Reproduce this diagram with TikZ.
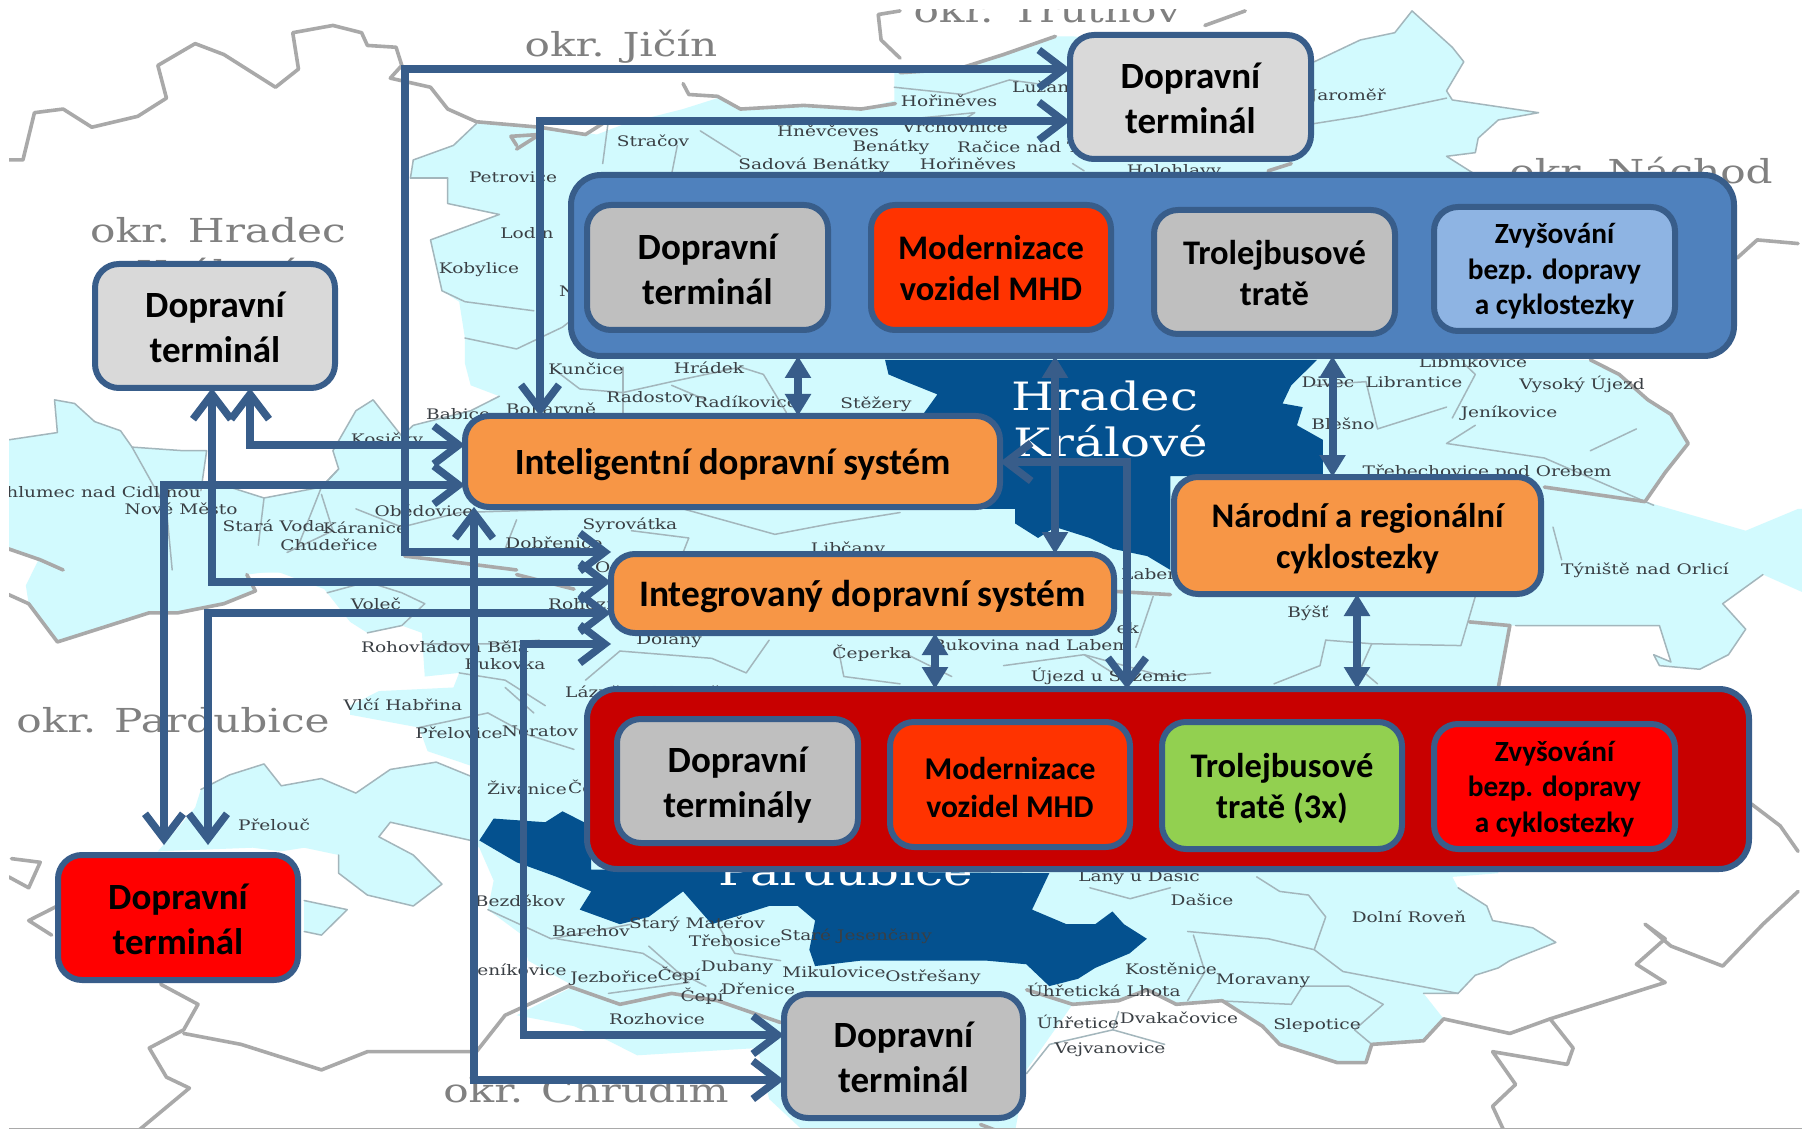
\documentclass[tikz,border=0pt]{standalone}
\usepackage{fontspec}
\setmainfont{Carlito}
\newfontfamily\mapf{DejaVu Serif}[FakeStretch=1.28]
\usetikzlibrary{arrows.meta,calc}
\definecolor{stk}{HTML}{385D8A}
\definecolor{gA}{HTML}{D9D9D9}
\definecolor{gB}{HTML}{BFBFBF}
\definecolor{mhd}{HTML}{FF3300}
\definecolor{lbl}{HTML}{8EB4E3}
\definecolor{pnlb}{HTML}{4F81BD}
\definecolor{org}{HTML}{F79646}
\definecolor{pnlr}{HTML}{C80000}
\definecolor{grn}{HTML}{92D050}
\definecolor{mapc}{HTML}{D2FAFE}
\definecolor{cityb}{HTML}{04518F}
\definecolor{thk}{HTML}{A9A9A9}
\definecolor{thn}{HTML}{A3B6BC}
\definecolor{okr}{HTML}{808080}
\definecolor{town}{HTML}{3A3F44}
\newcounter{lb}
\newcommand\lb[4][center]{\stepcounter{lb}\node[townlbl,anchor=#1] (lab\thelb) at (#2,#3) {#4};}
\newcommand\ok[4][center]{\stepcounter{lb}\node[okrlbl,anchor=#1] (lab\thelb) at (#2,#3) {#4};}
\newcommand\ct[3]{\stepcounter{lb}\node[citylbl] (lab\thelb) at (#1,#2) {#3};}
\newcommand\fl[2]{\fill[#1] plot coordinates {#2} -- cycle;}
\newcommand\tk[1]{\draw[thkline] plot coordinates {#1};}
\newcommand\tn[1]{\draw[thnline] plot coordinates {#1};}
% pushes a text block down by half of #1 (pt): adds height to its first line
\newcommand\dn[2]{\raisebox{0pt}[\dimexpr\height+#1pt\relax]{#2}}
% name, x1,y1,x2,y2 (outer edge), style, text
\newcommand\bx[7]{\node[#6,minimum width={(#4-#2-6)*1pt},minimum height={(#5-#3-6)*1pt}] (#1) at ({(#2+#4)/2},{(#3+#5)/2}) {#7};}
\tikzset{
  townlbl/.style={inner sep=0,font=\mapf\fontsize{14.5}{15}\selectfont,text=town},
  okrlbl/.style={inner sep=0,font=\mapf\fontsize{33}{33}\selectfont,text=okr},
  citylbl/.style={inner sep=0,font=\mapf\fontsize{39}{39}\selectfont,text=white},
  thkline/.style={draw=thk,line width=3.6pt,line join=round,line cap=round},
  thnline/.style={draw=thn,line width=1.5pt,line join=round,line cap=round},
  q1/.style={x=0.5740pt,y=-0.3635pt},
  q2/.style={shift={(900,0)},x=0.5753pt,y=-0.3635pt},
  q3/.style={shift={(0,560)},x=0.5740pt,y=-0.3642pt},
  q4/.style={shift={(900,560)},x=0.5753pt,y=-0.3642pt},
  box/.style={draw=stk,line width=6pt,rounded corners=24pt,align=center,inner sep=0,outer sep=0,text=black,font=\bfseries\fontsize{37}{45}\selectfont},
  mid/.style={box,font=\bfseries\fontsize{34.5}{41}\selectfont},
  small/.style={box,font=\bfseries\fontsize{29.3}{35.5}\selectfont},
  pnl/.style={draw=stk,line width=6pt,rounded corners=30pt,inner sep=0,outer sep=0},
  conn/.style={draw=stk,line width=7.5pt,line join=miter,{Straight Barb[length=25pt,width=38pt]}-{Straight Barb[length=25pt,width=38pt]}},
  dbl/.style={draw=stk,line width=8pt,{Triangle[length=22pt,width=25pt]}-{Triangle[length=22pt,width=25pt]}},
}
\begin{document}
\begin{tikzpicture}[x=1pt,y=-1pt]
\useasboundingbox (0,0) rectangle (1802,1131);
\fill[white] (0,0) rectangle (1802,1131);
\begin{scope}
\clip (9,10) rectangle (1802,1128);
% ---------- map fills
\begin{scope}[q1]
\fl{mapc}{(720,440)(790,400)(830,340)(900,340)(1040,370)(1090,340)(1190,300)(1250,270)(1290,300)(1400,290)(1500,300)(1575,270)(1575,1575)(110,1575)(70,1540)(15,1505)(15,1210)(100,1190)(95,1100)(130,1110)(165,1160)(210,1185)(230,1230)(320,1240)(360,1240)(350,1350)(380,1330)(460,1370)(560,1340)(590,1290)(580,1240)(620,1130)(650,1100)(700,1200)(720,1170)(820,1130)(870,1090)(820,1060)(810,1000)(810,930)(800,830)(770,800)(750,660)(870,590)(780,560)(780,490)(715,490)}
\end{scope}
\begin{scope}[q2]
\fl{mapc}{(-10,200)(100,190)(180,150)(270,100)(300,100)(720,170)(800,110)(860,90)(890,30)(960,130)(980,170)(950,250)(960,275)(1110,310)(1040,330)(1005,380)(1000,420)(950,430)(1000,480)(1000,990)(1200,990)(1250,1030)(1300,1100)(1340,1140)(1370,1220)(1330,1300)(1295,1380)(1470,1460)(1561,1400)(1571,1400)(1571,1578)(-10,1578)}
\end{scope}
\begin{scope}[q3]
\fl{mapc}{(70,-10)(45,70)(50,120)(100,225)(190,180)(260,145)(310,145)(390,120)(445,85)(430,40)(480,30)(565,80)(610,170)(640,200)(700,180)(735,200)(740,320)(800,310)(790,350)(660,360)(610,400)(610,425)(730,460)(745,525)(830,570)(830,600)(760,555)(680,575)(620,640)(560,600)(490,620)(460,560)(400,590)(350,630)(340,680)(275,800)(440,790)(490,800)(530,790)(590,810)(590,860)(640,920)(720,950)(770,890)(720,810)(660,760)(680,720)(820,770)(835,790)(860,880)(850,960)(910,1030)(920,1100)(1000,1170)(900,1250)(1000,1280)(1060,1320)(1110,1360)(1320,1340)(1340,1480)(1400,1568)(1575,1568)(1575,-10)}
\fl{mapc}{(530,935)(605,960)(560,1030)(530,1020)}
\end{scope}
\begin{scope}[q4]
\fl{mapc}{(-10,-10)(1571,-10)(1571,90)(1500,40)(1430,120)(1470,190)(1440,260)(1390,300)(1320,290)(1310,260)(1340,280)(1320,180)(1060,180)(1040,350)(1040,860)(960,870)(970,900)(1020,950)(1030,990)(1100,1010)(1140,1050)(1060,1100)(1040,1120)(1000,1140)(970,1190)(910,1190)(945,1260)(910,1320)(820,1330)(810,1380)(760,1380)(660,1330)(630,1280)(560,1210)(480,1220)(430,1180)(380,1210)(300,1220)(220,1400)(200,1568)(-10,1568)}
\end{scope}
% ---------- cities
\begin{scope}[q2]
\fl{cityb}{(-26,990)(725,990)(680,1060)(665,1110)(700,1120)(690,1170)(735,1210)(735,1310)(470,1310)(470,1568)(430,1530)(370,1510)(330,1480)(270,1450)(240,1480)(200,1440)(200,1400)(60,1400)(60,1140)(40,1140)(65,1085)(10,1050)(-20,1030)}
\end{scope}
\begin{scope}[q3]
\fl{cityb}{(835,770)(860,710)(950,720)(980,690)(1030,730)(1030,850)(1828,860)(1798,960)(1858,1000)(1908,1000)(1938,965)(1958,1000)(1998,1040)(1968,1080)(1908,1120)(1878,1150)(1828,1170)(1788,1110)(1718,1100)(1588,1100)(1500,1100)(1420,1115)(1410,1070)(1420,990)(1390,950)(1340,950)(1280,980)(1240,1000)(1190,910)(1130,980)(1080,1000)(1010,960)(1030,910)(970,870)(900,830)}
\end{scope}
% ---------- boundaries
\begin{scope}[q1]
\tn{(780,490)(780,560)(870,590)(750,660)(770,800)(810,830)(930,855)}
\tn{(715,490)(780,490)}
\tn{(810,930)(900,960)(980,900)(1020,850)}
\tn{(960,1010)(1010,1070)(1085,1080)(1170,1050)(1290,1010)(1330,1030)(1370,1135)}
\tn{(1085,1010)(1085,1140)}
\tn{(1170,1060)(1230,1100)}
\tn{(590,1290)(560,1340)(520,1500)}
\tn{(230,1230)(290,1400)(300,1568)}
\tn{(460,1370)(450,1500)}
\tn{(560,1360)(580,1460)(500,1520)}
\tn{(620,1400)(700,1450)(800,1410)(1010,1400)}
\tn{(900,1430)(880,1510)}
\tn{(1190,1400)(1350,1470)(1450,1440)(1568,1410)}
\tn{(1100,1460)(1200,1480)(1190,1520)}
\tn{(1060,330)(1050,450)}
\tn{(1180,400)(1170,480)}
\tn{(1290,430)(1220,360)}
\tn{(720,440)(715,490)}
\tn{(830,340)(790,400)(720,440)}
\tn{(15,1210)(100,1190)(95,1100)(130,1110)(165,1160)(210,1185)(230,1230)(320,1240)(360,1240)(350,1350)}
\tn{(380,1330)(460,1370)(560,1340)(590,1290)(580,1240)(620,1130)(650,1100)(700,1200)(720,1170)(820,1130)(870,1090)}
\tk{(15,440)(40,440)(60,310)(110,300)(160,350)(240,320)(290,270)(275,180)(340,120)(390,150)(480,240)(520,190)(510,90)(580,70)(630,90)(640,125)(690,130)(700,180)(680,215)(750,240)(780,300)(830,335)(940,350)(1020,370)(1050,340)}
\tk{(1190,230)(1200,260)(1250,265)(1290,300)(1400,290)(1500,300)(1560,285)}
\tk{(1568,30)(1530,40)(1535,110)(1568,160)}
\tk{(900,400)(890,375)(940,370)(900,410)}
\tk{(15,1510)(70,1540)(110,1568)}
\tk{(705,1530)(760,1540)(900,1568)}
\end{scope}
\begin{scope}[q2]
\tn{(960,1150)(1000,1030)(980,1000)}
\tn{(720,1060)(810,1050)(830,1180)(950,1120)}
\tn{(1000,1170)(950,1220)(1120,1260)(1310,1390)}
\tn{(1280,1180)(1200,1240)}
\tn{(-10,240)(110,260)(190,220)(260,235)}
\tn{(300,450)(320,470)}
\tn{(0,330)(130,310)(100,340)}
\tn{(1135,1450)(1150,1540)}
\tn{(720,170)(800,110)(860,90)(890,30)(960,130)(980,170)(950,250)(960,275)(1110,310)(1040,330)(1005,380)(1000,420)(950,430)(1000,480)}
\tn{(720,340)(800,320)(950,270)}
\tk{(0,200)(100,190)(180,150)(270,100)}
\tk{(530,70)(600,30)}
\tk{(640,470)(680,450)}
\tk{(1455,710)(1490,660)(1561,670)}
\tk{(1200,990)(1250,1030)(1300,1100)(1340,1140)(1370,1220)(1330,1300)(1295,1380)(1120,1340)}
\end{scope}
\begin{scope}[q3]
\tn{(735,230)(860,230)(940,220)}
\tn{(800,310)(880,330)(950,400)}
\tn{(880,350)(930,420)}
\tn{(850,420)(920,480)(1000,520)}
\tn{(730,460)(850,420)}
\tn{(1080,250)(1240,270)(1300,310)(1340,220)}
\tn{(1080,250)(1020,330)}
\tn{(1460,240)(1470,320)(1568,340)}
\tn{(1250,1000)(1280,1080)(1360,1100)}
\tn{(970,1040)(1120,1080)(1200,1160)}
\tn{(1130,1060)(1180,1130)(1230,1170)}
\tn{(850,960)(960,1040)(1100,1000)}
\tn{(1200,1160)(1060,1190)}
\tn{(570,90)(640,60)(700,90)(740,120)(700,180)(640,200)}
\tn{(350,630)(400,590)(460,560)(490,620)(560,600)(620,640)(680,575)(760,555)(830,600)}
\tn{(590,810)(590,860)(640,920)(720,950)(770,890)(720,810)(660,760)(680,720)(820,770)}
\tn{(530,935)(605,960)(560,1030)(530,1020)}
\tk{(15,95)(50,120)(100,225)(190,180)(260,145)(310,145)(390,120)(445,85)(430,40)}
\tk{(900,40)(1000,80)}
\tk{(20,820)(70,830)(50,900)(15,870)}
\tk{(100,950)(50,990)(90,1030)}
\tk{(280,1165)(345,1220)(320,1290)(260,1340)(290,1420)(330,1450)(240,1568)}
\tk{(320,1300)(420,1330)(560,1400)(640,1350)(830,1350)(880,1250)(990,1170)(1080,1220)(1170,1190)(1250,1210)(1360,1270)}
\end{scope}
\begin{scope}[q4]
\tn{(0,250)(90,320)}
\tn{(180,290)(320,260)(460,320)(540,310)}
\tn{(320,260)(370,310)}
\tn{(440,100)(410,240)}
\tn{(740,220)(820,230)(975,235)(1000,100)}
\tn{(740,220)(730,290)(650,340)}
\tn{(820,230)(800,300)(830,340)}
\tn{(330,900)(400,930)(470,900)}
\tn{(620,870)(660,910)(710,920)(740,980)(720,1070)(770,1130)(970,1190)}
\tn{(500,1020)(640,1040)(720,1070)}
\tn{(510,1030)(530,1130)(500,1210)}
\tn{(680,1220)(700,1170)(780,1170)(840,1220)(790,1290)(820,1330)}
\tn{(380,1240)(370,1290)(260,1330)(220,1410)}
\tn{(370,1290)(460,1330)}
\tn{(550,1210)(680,1220)}
\tn{(1500,40)(1430,120)(1470,190)(1440,260)(1390,300)(1320,290)(1310,260)(1340,280)(1320,180)(1070,180)}
\tn{(970,900)(1020,950)(1030,990)(1100,1010)(1140,1050)(1060,1100)(1040,1120)(1000,1140)(970,1190)(910,1190)}
\tk{(360,85)(470,95)}
\tk{(990,170)(1060,180)(1040,350)}
\tk{(1480,670)(1530,730)(1561,800)}
\tk{(220,1180)(300,1220)(380,1210)(430,1180)(480,1220)(560,1210)(630,1280)(660,1330)(760,1380)(810,1380)(820,1330)(910,1320)(945,1260)(1060,1300)(1130,1260)(1330,1160)(1280,1110)(1330,1040)(1295,1000)(1340,1060)(1430,1115)(1500,1000)(1561,910)}
\tk{(1130,1260)(1170,1340)(1160,1385)(1030,1350)(1070,1440)(1030,1500)(1050,1568)}
\tk{(140,1550)(170,1568)}
\end{scope}
\draw[draw=thk,line width=2pt] (9,1129) -- (1802,1129);
% ---------- map labels
\ok{621}{47}{okr. Jičín}
\ok{1047}{10}{okr. Trutnov}
\ok{218}{230}{okr. Hradec}
\ok{218}{272}{Králové}
\ok[east]{1773}{171}{okr. Náchod}
\ok{173}{720}{okr. Pardubice}
\ok{586}{1090}{okr. Chrudim}
\ct{1105}{396}{Hradec}
\ct{1111}{441}{Králové}
\ct{846}{871}{Pardubice}
\lb{653}{141}{Stračov}
\lb{828}{131}{Hněvčeves}
\lb{891}{147}{Benátky}
\lb{814}{165}{Sadová Benátky}
\lb{513}{177}{Petrovice}
\lb{527}{233}{Lodín}
\lb{479}{270}{Kobylice}
\lb[west]{559}{291}{N}
\lb{586}{369}{Kunčice}
\lb{709}{368}{Hrádek}
\lb{650}{397}{Radostov}
\lb{746}{402}{Radíkovice}
\lb{876}{404}{Stěžery}
\lb[west]{426}{414}{Babice}
\lb{551}{410}{Boharyně}
\lb{387}{440}{Kosičky}
\lb[east]{201}{492}{Chlumec nad Cidlinou}
\lb{181}{509}{Nové Město}
\lb{274}{526}{Stará Voda}
\lb{365}{528}{Káranice}
\lb{329}{545}{Chudeřice}
\lb{424}{511}{Obědovice}
\lb{630}{525}{Syrovátka}
\lb{554}{543}{Dobřenice}
\lb[west]{595}{567}{Osice}
\lb{848}{549}{Libčany}
\lb{949}{101}{Hořiněves}
\lb[west]{1012}{88}{Lužany}
\lb[east]{1386}{96}{Jaroměř}
\lb{955}{127}{Vrchovnice}
\lb[west]{957}{147}{Račice nad Trotinou}
\lb{968}{164}{Hořiněves}
\lb{1174}{172}{Holohlavy}
\lb{1473}{362}{Libníkovice}
\lb{1328}{382}{Divec}
\lb{1414}{382}{Librantice}
\lb{1582}{384}{Vysoký Újezd}
\lb{1509}{413}{Jeníkovice}
\lb{1343}{424}{Blešno}
\lb{1487}{472}{Třebechovice pod Orebem}
\lb{1645}{570}{Týniště nad Orlicí}
\lb{1308}{613}{Býšť}
\lb[west]{1121}{574}{Labem}
\lb[east]{1139}{628}{ek}
\lb{1031}{645}{Bukovina nad Labem}
\lb{1109}{676}{Újezd u Sezemic}
\lb{872}{653}{Čeperka}
\lb{669}{641}{Dolany}
\lb{445}{647}{Rohovládova Bělá}
\lb{505}{664}{Bukovka}
\lb{376}{604}{Voleč}
\lb[west]{548}{604}{Rohoznice}
\lb[west]{565}{692}{Lázně Bohdaneč}
\lb{403}{705}{Vlčí Habřina}
\lb{459}{733}{Přelovice}
\lb{540}{731}{Neratov}
\lb{527}{788}{Živanice}
\lb[west]{568}{787}{Černá}
\lb{274}{825}{Přelouč}
\lb{520}{901}{Bezděkov}
\lb{591}{931}{Barchov}
\lb{697}{924}{Starý Mateřov}
\lb{735}{941}{Třebosice}
\lb{856}{936}{Staré Jesenčany}
\lb{737}{968}{Dubany}
\lb{834}{972}{Mikulovice}
\lb{933}{977}{Ostřešany}
\lb{522}{970}{eníkovice}
\lb{614}{978}{Jezbořice}
\lb{679}{975}{Čepí}
\lb{702}{996}{Čepí}
\lb{758}{989}{Dřenice}
\lb{657}{1019}{Rozhovice}
\lb{1139}{877}{Lány u Dašic}
\lb{1202}{900}{Dašice}
\lb{1409}{917}{Dolní Roveň}
\lb{1171}{969}{Kostěnice}
\lb{1263}{981}{Moravany}
\lb{1104}{990}{Úhřetická Lhota}
\lb{1078}{1022}{Úhřetice}
\lb{1179}{1018}{Dvakačovice}
\lb{1317}{1025}{Slepotice}
\lb{1110}{1050}{Vejvanovice}
\end{scope}
% ---------- panels and boxes
\bx{pB}{568}{172}{1737}{359}{pnl,fill=pnlb}{}
\bx{pR}{584}{686}{1752}{872}{pnl,fill=pnlr}{}
\bx{tT}{1067}{32}{1314}{162}{box,fill=gA}{\dn{3}{Dopravní}\\terminál}
\bx{tL}{92}{261}{338}{391}{box,fill=gA}{\dn{3}{Dopravní}\\terminál}
\bx{tR}{55}{852}{301}{983}{box,fill=red}{\dn{4}{Dopravní}\\terminál}
\bx{tB}{781}{991}{1026}{1121}{box,fill=gB}{\dn{3}{Dopravní}\\terminál}
\bx{bA}{584}{202}{831}{333}{box,fill=gB}{\dn{3}{Dopravní}\\terminál}
\bx{bB}{868}{202}{1114}{333}{mid,fill=mhd}{\dn{2}{Modernizace}\\vozidel MHD}
\bx{bC}{1151}{207}{1398}{337}{mid,fill=gB}{\dn{2}{Trolejbusové}\\tratě}
\bx{bD}{1431}{204}{1678}{334}{small,fill=lbl}{\dn{5}{Zvyšování}\\bezp. dopravy\\a cyklostezky}
\bx{rA}{614}{716}{861}{846}{box,fill=gB}{\dn{8}{Dopravní}\\terminály}
\bx{rB}{887}{719}{1133}{850}{mid,fill=mhd,font=\bfseries\fontsize{31.7}{38}\selectfont}{\dn{5}{Modernizace}\\vozidel MHD}
\bx{rC}{1159}{719}{1405}{852}{mid,fill=grn}{\dn{6}{Trolejbusové}\\tratě (3x)}
\bx{rD}{1431}{721}{1678}{852}{small,fill=red}{\dn{5}{Zvyšování}\\bezp. dopravy\\a cyklostezky}
\bx{in}{462}{413}{1003}{510}{mid,fill=org,font=\bfseries\fontsize{37}{40}\selectfont}{\dn{7}{Inteligentní dopravní systém}}
\bx{gr}{608}{551}{1117}{636}{mid,fill=org,font=\bfseries\fontsize{37.4}{40}\selectfont}{\dn{7}{Integrovaný dopravní systém}}
\bx{nar}{1171}{474}{1544}{597}{mid,fill=org}{\dn{7}{Národní a regionální}\\cyklostezky}
% ---------- connectors
\coordinate (a1) at (405,69); \coordinate (a2) at (405,552);
\coordinate (b1) at (540,121);
\coordinate (c1) at (250,445);
\coordinate (d1) at (212,582);
\coordinate (e1) at (164,485); \coordinate (e2) at (164,845);
\coordinate (f1) at (208,613); \coordinate (f2) at (208,845);
\coordinate (g1) at (474,1080);
\coordinate (h1) at (523.5,644); \coordinate (h2) at (523.5,1035);
\coordinate (i1) at (1127,462);
\coordinate (j1) at (798,380); \coordinate (k1) at (1055,380);
\coordinate (l1) at (1332.5,380); \coordinate (m1) at (935,660); \coordinate (n1) at (1357,640);
\draw[conn] (tT.west |- a1) -- (a1) -- (a2) -- (gr.west |- a2);
\draw[conn] (tT.west |- b1) -- (b1) -- (b1 |- in.north);
\draw[conn] (c1 |- tL.south) -- (c1) -- (in.west |- c1);
\draw[conn] (d1 |- tL.south) -- (d1) -- (gr.west |- d1);
\draw[conn] (in.west |- e1) -- (e1) -- (e2);
\draw[conn] (gr.west |- f1) -- (f1) -- (f2);
\draw[conn] (g1 |- in.south) -- (g1) -- (tB.west |- g1);
\draw[conn] (gr.west |- h1) -- (h1) -- (h2) -- (tB.west |- h2);
\draw[conn] (in.east |- i1) -- (i1) -- (i1 |- pR.north);
\draw[dbl] (j1 |- pB.south) -- (j1 |- in.north);
\draw[dbl] (k1 |- pB.south) -- (k1 |- gr.north);
\draw[dbl] (l1 |- pB.south) -- (l1 |- nar.north);
\draw[dbl] (m1 |- gr.south) -- (m1 |- pR.north);
\draw[dbl] (n1 |- nar.south) -- (n1 |- pR.north);
\end{tikzpicture}
\end{document}
